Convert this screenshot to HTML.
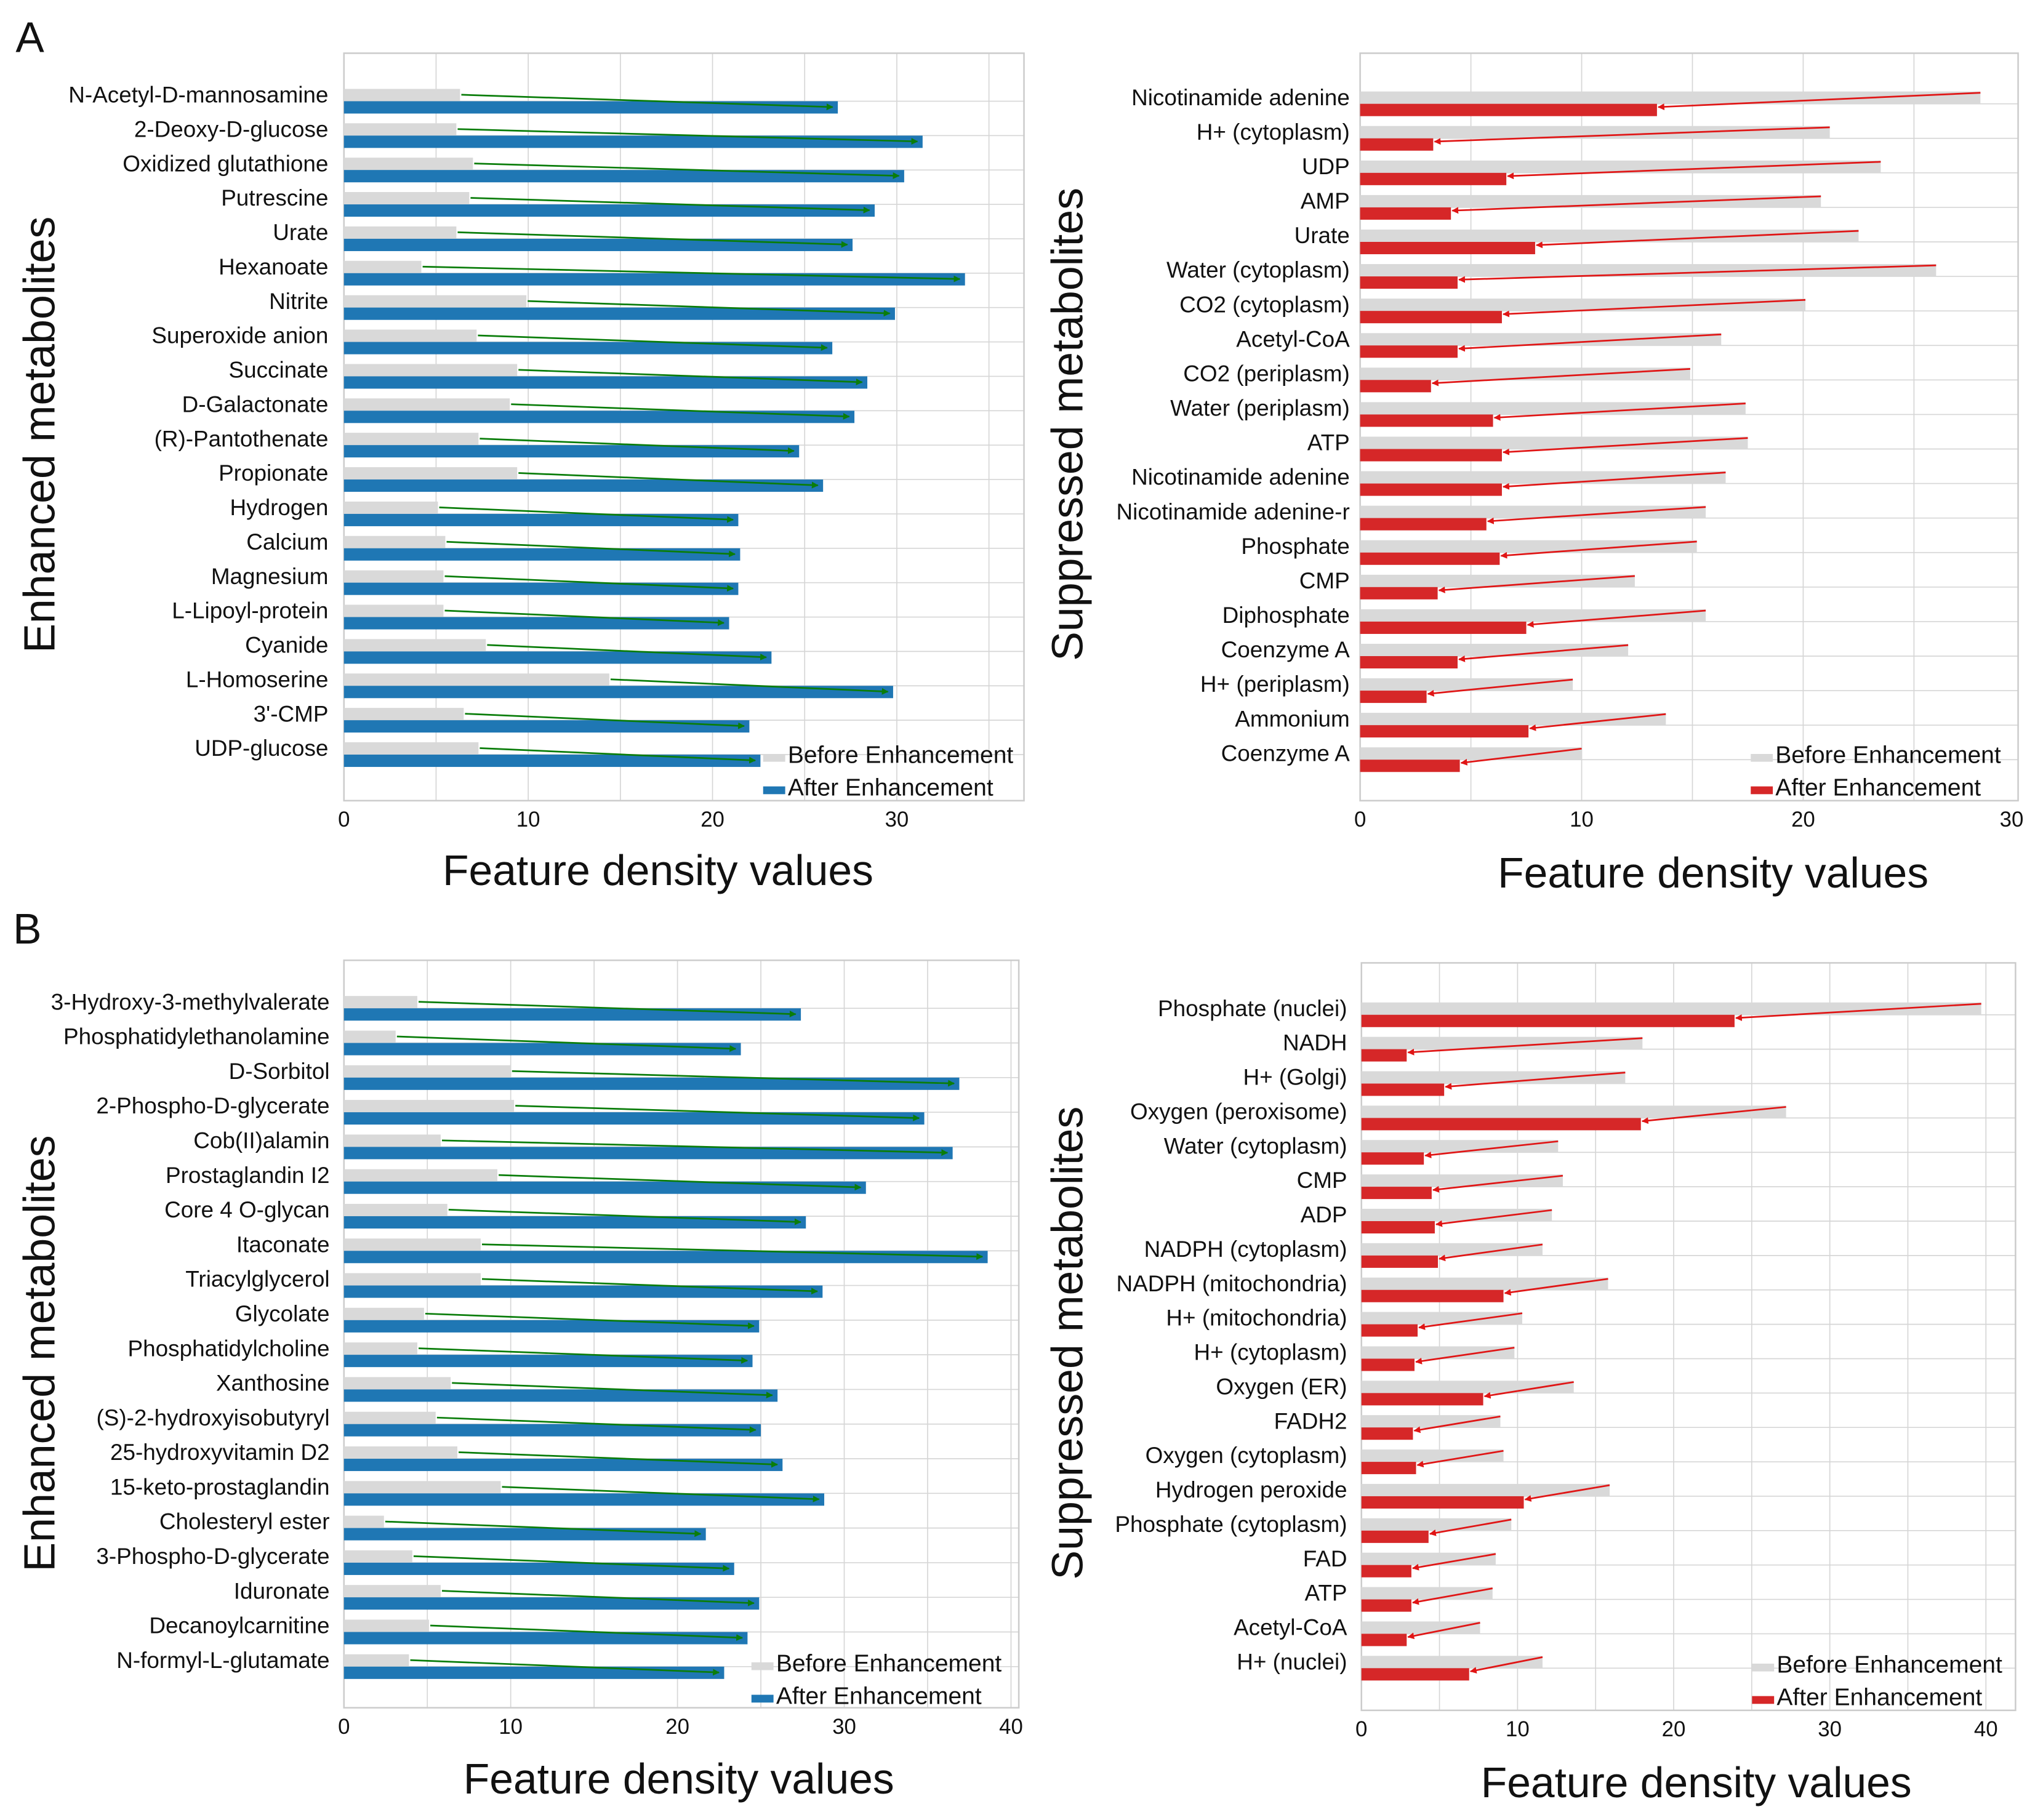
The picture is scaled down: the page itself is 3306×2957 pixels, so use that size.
<!DOCTYPE html>
<html><head><meta charset="utf-8"><style>
html,body{margin:0;padding:0;background:#fff}
svg{display:block}
text{font-family:"Liberation Sans","DejaVu Sans",sans-serif;fill:#111}
</style></head><body>
<svg id="fig" width="3306" height="2957" viewBox="0 0 1568 1402.5" xmlns="http://www.w3.org/2000/svg">
<defs>
<marker id="ag" viewBox="0 0 10 10" refX="9" refY="5" markerWidth="4" markerHeight="4" orient="auto"><path d="M0,0L10,5L0,10z" fill="#0a7d0a"/></marker>
<marker id="ar" viewBox="0 0 10 10" refX="9" refY="5" markerWidth="4" markerHeight="4" orient="auto"><path d="M0,0L10,5L0,10z" fill="#e01515"/></marker>
</defs>
<text x="12" y="40" font-size="33">A</text>
<text x="10" y="727" font-size="33">B</text>
</svg>
<script>
// Panel A enhanced
const aEnhCats=["N-Acetyl-D-mannosamine","2-Deoxy-D-glucose","Oxidized glutathione","Putrescine","Urate","Hexanoate","Nitrite","Superoxide anion","Succinate","D-Galactonate","(R)-Pantothenate","Propionate","Hydrogen","Calcium","Magnesium","L-Lipoyl-protein","Cyanide","L-Homoserine","3'-CMP","UDP-glucose"];
const aEnhBefore=[6.3,6.1,7.0,6.8,6.1,4.2,9.9,7.2,9.4,9.0,7.3,9.4,5.1,5.5,5.4,5.4,7.7,14.4,6.5,7.3];
const aEnhAfter=[26.8,31.4,30.4,28.8,27.6,33.7,29.9,26.5,28.4,27.7,24.7,26.0,21.4,21.5,21.4,20.9,23.2,29.8,22.0,22.6];
const aEnhTicks=[0,10,20,30];
// Panel A suppressed
const aSupCats=["Nicotinamide adenine","H+ (cytoplasm)","UDP","AMP","Urate","Water (cytoplasm)","CO2 (cytoplasm)","Acetyl-CoA","CO2 (periplasm)","Water (periplasm)","ATP","Nicotinamide adenine","Nicotinamide adenine-r","Phosphate","CMP","Diphosphate","Coenzyme A","H+ (periplasm)","Ammonium","Coenzyme A"];
const aSupBefore=[28.0,21.2,23.5,20.8,22.5,26.0,20.1,16.3,14.9,17.4,17.5,16.5,15.6,15.2,12.4,15.6,12.1,9.6,13.8,10.0];
const aSupAfter=[13.4,3.3,6.6,4.1,7.9,4.4,6.4,4.4,3.2,6.0,6.4,6.4,5.7,6.3,3.5,7.5,4.4,3.0,7.6,4.5];
const aSupTicks=[0,10,20,30];
// Panel B enhanced
const bEnhCats=["3-Hydroxy-3-methylvalerate","Phosphatidylethanolamine","D-Sorbitol","2-Phospho-D-glycerate","Cob(II)alamin","Prostaglandin I2","Core 4 O-glycan","Itaconate","Triacylglycerol","Glycolate","Phosphatidylcholine","Xanthosine","(S)-2-hydroxyisobutyryl","25-hydroxyvitamin D2","15-keto-prostaglandin","Cholesteryl ester","3-Phospho-D-glycerate","Iduronate","Decanoylcarnitine","N-formyl-L-glutamate"];
const bEnhBefore=[4.4,3.1,10.0,10.2,5.8,9.2,6.2,8.2,8.2,4.8,4.4,6.4,5.5,6.8,9.4,2.4,4.1,5.8,5.1,3.9];
const bEnhAfter=[27.4,23.8,36.9,34.8,36.5,31.3,27.7,38.6,28.7,24.9,24.5,26.0,25.0,26.3,28.8,21.7,23.4,24.9,24.2,22.8];
const bEnhTicks=[0,10,20,30,40];
// Panel B suppressed
const bSupCats=["Phosphate (nuclei)","NADH","H+ (Golgi)","Oxygen (peroxisome)","Water (cytoplasm)","CMP","ADP","NADPH (cytoplasm)","NADPH (mitochondria)","H+ (mitochondria)","H+ (cytoplasm)","Oxygen (ER)","FADH2","Oxygen (cytoplasm)","Hydrogen peroxide","Phosphate (cytoplasm)","FAD","ATP","Acetyl-CoA","H+ (nuclei)"];
const bSupBefore=[39.7,18.0,16.9,27.2,12.6,12.9,12.2,11.6,15.8,10.3,9.8,13.6,8.9,9.1,15.9,9.6,8.6,8.4,7.6,11.6];
const bSupAfter=[23.9,2.9,5.3,17.9,4.0,4.5,4.7,4.9,9.1,3.6,3.4,7.8,3.3,3.5,10.4,4.3,3.2,3.2,2.9,6.9];
const bSupTicks=[0,10,20,30,40];

const NS="http://www.w3.org/2000/svg";
const svg=document.getElementById('fig');
function mk(tag,attrs,parent){const e=document.createElementNS(NS,tag);for(const k in attrs)e.setAttribute(k,attrs[k]);(parent||svg).appendChild(e);return e;}

function panel(cfg,cats,before,after,ticks){
  const g=mk('g',{});
  
  
  const xs=v=>cfg.x0+v*cfg.k;
  const ys=i=>cfg.c0+i*cfg.step;
  for(let v=5;xs(v)<cfg.x1-1;v+=5){
    const l=mk('line',{x1:xs(v),x2:xs(v),y1:cfg.top,y2:cfg.bottom,stroke:'#d6d6d6','stroke-width':0.8},g);
    
    
  }
  cats.forEach((c,i)=>{
    const l=mk('line',{x1:cfg.x0,x2:cfg.x1,y1:ys(i)+5,y2:ys(i)+5,stroke:'#d6d6d6','stroke-width':0.8},g);
    
    
  });
  const frame=mk('rect',{x:cfg.x0,y:cfg.top,width:cfg.x1-cfg.x0,height:cfg.bottom-cfg.top,fill:'none',stroke:'#cccccc','stroke-width':1.2},g);
  
  
  cats.forEach((c,i)=>{
    const y=ys(i);
    const b=mk('rect',{x:cfg.x0,y:y-4.5,width:xs(before[i])-cfg.x0,height:9.5,fill:'#d9d9d9'},g);
    
    
    const a=mk('rect',{x:cfg.x0,y:y+5,width:xs(after[i])-cfg.x0,height:9.5,fill:cfg.color},g);
    
    
    let ar;
    if(cfg.enh){
      ar=mk('line',{x1:xs(before[i])+1,y1:y,x2:xs(after[i])-4,y2:y+9.5,stroke:'#0a7d0a','stroke-width':1.3,'marker-end':'url(#ag)'},g);
    }else{
      ar=mk('line',{x1:xs(before[i]),y1:y-3.5,x2:xs(after[i])+1,y2:y+7.5,stroke:'#e01515','stroke-width':1.3,'marker-end':'url(#ar)'},g);
    }
    
    
    const t=mk('text',{x:cfg.lx,y:y+6,'font-size':17.5,'text-anchor':'end'},g);
    t.textContent=c;
    
    
  });
  ticks.forEach(v=>{
    const t=mk('text',{x:Math.min(xs(v),cfg.x1-5),y:cfg.bottom+20,'font-size':16.5,'text-anchor':'middle'},g);
    t.textContent=v;
    
    
  });
  const xt=mk('text',{x:cfg.xtx,y:cfg.xty,'font-size':33,'text-anchor':'middle'},g);
  xt.textContent='Feature density values';
  
  
  const yt=mk('text',{x:0,y:0,'font-size':34,'text-anchor':'middle',transform:`translate(${cfg.ytx},${cfg.yty}) rotate(-90)`},g);
  yt.textContent=cfg.enh?'Enhanced metabolites':'Suppressed metabolites';
  
  
  const s1=mk('rect',{x:cfg.lgx,y:cfg.lgy-7,width:17,height:6,fill:'#d9d9d9'},g);
  
  
  const t1=mk('text',{x:cfg.lgx+19,y:cfg.lgy,'font-size':18.5},g);
  t1.textContent='Before Enhancement';
  
  
  const s2=mk('rect',{x:cfg.lgx,y:cfg.lgy+18,width:17,height:6,fill:cfg.color},g);
  
  
  const t2=mk('text',{x:cfg.lgx+19,y:cfg.lgy+25,'font-size':18.5},g);
  t2.textContent='After Enhancement';
  
  
}

panel({id:'panel-a-enhanced',enh:true,color:'#1f77b4',x0:265,x1:789,top:41,bottom:617,k:14.2,c0:73,step:26.5,lx:253,xtx:507,xty:682,ytx:42,yty:335,lgx:588,lgy:588},aEnhCats,aEnhBefore,aEnhAfter,aEnhTicks);
panel({id:'panel-a-suppressed',enh:false,color:'#d62728',x0:1048,x1:1555,top:41,bottom:617,k:17.07,c0:75,step:26.6,lx:1040,xtx:1320,xty:684,ytx:834,yty:327,lgx:1349,lgy:588},aSupCats,aSupBefore,aSupAfter,aSupTicks);
panel({id:'panel-b-enhanced',enh:true,color:'#1f77b4',x0:265,x1:785,top:740,bottom:1316,k:12.85,c0:772,step:26.7,lx:254,xtx:523,xty:1382,ytx:42,yty:1043,lgx:579,lgy:1288},bEnhCats,bEnhBefore,bEnhAfter,bEnhTicks);
panel({id:'panel-b-suppressed',enh:false,color:'#d62728',x0:1049,x1:1553,top:742,bottom:1318,k:12.03,c0:777,step:26.5,lx:1038,xtx:1307,xty:1385,ytx:834,yty:1035,lgx:1350,lgy:1289},bSupCats,bSupBefore,bSupAfter,bSupTicks);
</script>
</body></html>
